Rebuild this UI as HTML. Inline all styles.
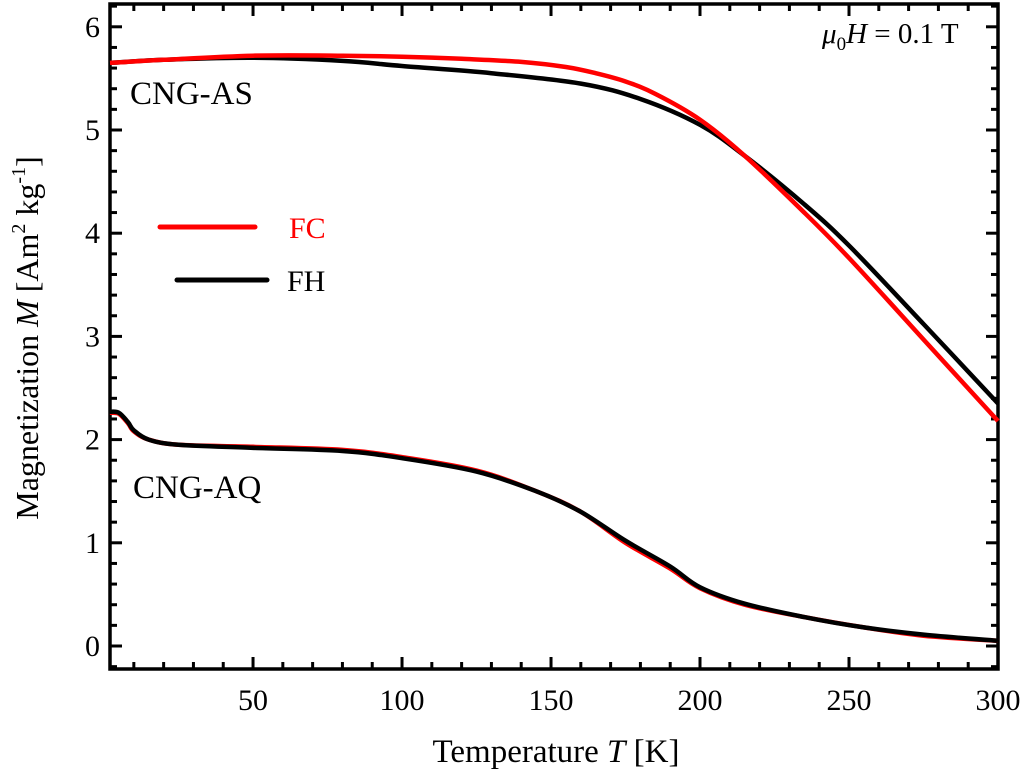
<!DOCTYPE html>
<html><head><meta charset="utf-8"><style>
body{margin:0;background:#fff}
svg{display:block;font-family:"Liberation Serif",serif}
</style></head><body>
<svg id="chart" width="1024" height="776">
<rect x="110" y="4" width="888" height="665" fill="none" stroke="#000" stroke-width="3.5"/>
<g id="ticks"></g>
<g id="series"></g>
<g>
<line x1="160" y1="227" x2="255" y2="227" stroke="#f00" stroke-width="5" stroke-linecap="round"/>
<text x="289" y="238" font-size="30" fill="#f00">FC</text>
<line x1="177" y1="280" x2="267" y2="280" stroke="#000" stroke-width="5" stroke-linecap="round"/>
<text x="287" y="291" font-size="30">FH</text>
</g>
<text x="130" y="104" font-size="33">CNG-AS</text>
<text x="133" y="498" font-size="33">CNG-AQ</text>
<text x="822" y="43" font-size="29"><tspan font-style="italic">μ</tspan><tspan font-size="19" dy="7">0</tspan><tspan font-style="italic" dy="-7">H</tspan> = 0.1 T</text>
<text x="556" y="762" font-size="33" text-anchor="middle">Temperature <tspan font-style="italic">T</tspan> [K]</text>
<text transform="translate(38,338) rotate(-90)" font-size="32" text-anchor="middle">Magnetization <tspan font-style="italic">M</tspan> [Am<tspan font-size="20" dy="-13">2</tspan><tspan dy="13"> kg</tspan><tspan font-size="20" dy="-13">-1</tspan><tspan dy="13">]</tspan></text>
</svg>
<script>
const xTicks=[50,100,150,200,250,300];
const yTicks=[0,1,2,3,4,5,6];
const asFC_T=[2,20,50,80,100,120,140,155,165,175,185,200,215,235,250,275,300];
const asFC_M=[5.65,5.68,5.72,5.72,5.71,5.69,5.66,5.61,5.55,5.47,5.35,5.1,4.75,4.2,3.76,2.97,2.18];
const asFH_T=[2,20,50,80,100,130,160,180,200,215,235,250,275,300];
const asFH_M=[5.65,5.68,5.70,5.67,5.62,5.55,5.45,5.3,5.05,4.75,4.28,3.88,3.12,2.35];
const aq_T=[2,5,8,10,15,25,50,80,100,125,145,160,175,190,200,215,235,255,275,300];
const aqFC_M=[2.26,2.25,2.16,2.08,2.0,1.95,1.93,1.9,1.83,1.7,1.5,1.3,1.0,0.75,0.56,0.4,0.28,0.18,0.1,0.05];
const aqFH_M=[2.27,2.26,2.17,2.09,2.0,1.95,1.92,1.89,1.82,1.69,1.5,1.3,1.02,0.77,0.57,0.41,0.28,0.18,0.11,0.05];
const X=t=>110+(t-2)*(888/298);
const Y=m=>646-m*103.2;
const NS="http://www.w3.org/2000/svg";
const tg=document.getElementById('ticks'),sg=document.getElementById('series');
function mk(tag,attrs,parent){const e=document.createElementNS(NS,tag);for(const k in attrs)e.setAttribute(k,attrs[k]);parent.appendChild(e);return e;}
for(let t=10;t<=300;t+=10){const maj=t%50===0;const l=mk('line',{x1:X(t),x2:X(t),y1:669,y2:669-(maj?12:7),stroke:'#000','stroke-width':3},tg);


const l2=mk('line',{x1:X(t),x2:X(t),y1:4,y2:4+(maj?12:7),stroke:'#000','stroke-width':3},tg);

}
xTicks.forEach(t=>{const e=mk('text',{x:X(t),y:710,'font-size':30,'text-anchor':'middle'},tg);e.textContent=t;

});
for(let i=-1;i<=31;i++){const m=i*0.2;const y=Y(m);if(y<6||y>667)continue;const maj=i%5===0;
const l=mk('line',{x1:110,x2:110+(maj?12:7),y1:y,y2:y,stroke:'#000','stroke-width':3},tg);


const l2=mk('line',{x1:998,x2:998-(maj?12:7),y1:y,y2:y,stroke:'#000','stroke-width':3},tg);

}
yTicks.forEach(m=>{const e=mk('text',{x:100,y:Y(m)+10,'font-size':30,'text-anchor':'end'},tg);e.textContent=m;

});
function path(T,M,color,name){
const P=T.map((t,i)=>[X(t),Y(M[i])]);
let d='M'+P[0][0].toFixed(1)+','+P[0][1].toFixed(1);
for(let i=0;i<P.length-1;i++){const p0=P[Math.max(i-1,0)],p1=P[i],p2=P[i+1],p3=P[Math.min(i+2,P.length-1)];
const c1=[p1[0]+(p2[0]-p0[0])/6,p1[1]+(p2[1]-p0[1])/6],c2=[p2[0]-(p3[0]-p1[0])/6,p2[1]-(p3[1]-p1[1])/6];
d+='C'+c1.map(v=>v.toFixed(1)).join(',')+' '+c2.map(v=>v.toFixed(1)).join(',')+' '+p2.map(v=>v.toFixed(1)).join(',');}
const p=mk('path',{d:d,fill:'none',stroke:color,'stroke-width':4.5,'stroke-linejoin':'round'},sg);

}
path(aq_T,aqFC_M,'#f00','series-aq-fc');
path(aq_T,aqFH_M,'#000','series-aq-fh');
path(asFH_T,asFH_M,'#000','series-as-fh');
path(asFC_T,asFC_M,'#f00','series-as-fc');
</script>
</body></html>
